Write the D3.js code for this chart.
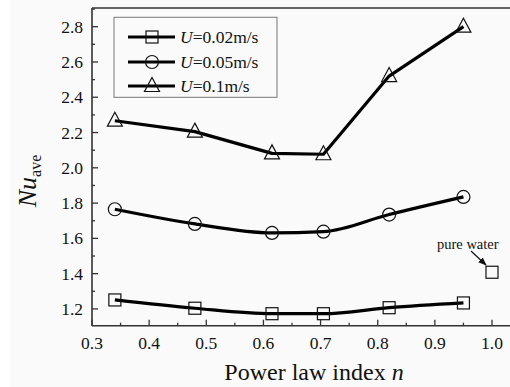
<!DOCTYPE html>
<html><head><meta charset="utf-8">
<script src="https://cdn.jsdelivr.net/npm/d3@7"></script>
<style>
html,body{margin:0;padding:0;background:#fafafa;}
svg{display:block;}
text{font-family:"Liberation Serif","Times New Roman",serif;fill:#111;}
</style></head>
<body>
<script>
const nValues = [0.34, 0.48, 0.615, 0.705, 0.82, 0.95];
const nu002 = [1.251, 1.204, 1.173, 1.173, 1.207, 1.234];
const nu005 = [1.765, 1.682, 1.631, 1.638, 1.735, 1.835];
const nu01  = [2.267, 2.205, 2.082, 2.077, 2.520, 2.800];
const seriesNames = ["0.02m/s", "0.05m/s", "0.1m/s"];
const seriesSymbols = ["square", "circle", "triangle"];
const pureWaterN = [1.0];
const pureWaterNu = [1.408];
const xTicks = [0.3, 0.4, 0.5, 0.6, 0.7, 0.8, 0.9, 1.0];
const yTicks = [1.2, 1.4, 1.6, 1.8, 2.0, 2.2, 2.4, 2.6, 2.8];

const W = 510, H = 387;
const svg = d3.select("body").append("svg").attr("width", W).attr("height", H);
svg.append("rect").attr("x",0).attr("y",0).attr("width",10).attr("height",H).attr("fill","#fff");

const L = 92, R = 510, T = 8, B = 325.7;
const x = d3.scaleLinear().domain([0.3, 1.0315]).range([L, R]);
const y = d3.scaleLinear().domain([1.105, 2.906]).range([B, T]);

const axisColor = "#333";
svg.append("line").attr("x1",L).attr("x2",R).attr("y1",T).attr("y2",T).attr("stroke",axisColor).attr("stroke-width",1.6);
svg.append("line").attr("x1",L).attr("x2",L).attr("y1",T).attr("y2",B).attr("stroke",axisColor).attr("stroke-width",1.6);
svg.append("line").attr("x1",L).attr("x2",R).attr("y1",B).attr("y2",B).attr("stroke",axisColor).attr("stroke-width",1.6);

const xMinor = d3.range(0.35, 1.03, 0.1);
const gx = svg.append("g");
xTicks.forEach(v=>{
  gx.append("line").attr("x1",x(v)).attr("x2",x(v)).attr("y1",B).attr("y2",B-6).attr("stroke",axisColor).attr("stroke-width",1.3);
  gx.append("text").attr("x",x(v)).attr("y",349).attr("text-anchor","middle").attr("font-size",17.5).text(d3.format(".1f")(v));
});
xMinor.forEach(v=>{
  gx.append("line").attr("x1",x(v)).attr("x2",x(v)).attr("y1",B).attr("y2",B-3).attr("stroke",axisColor).attr("stroke-width",1.3);
});
const yMinor = d3.range(1.3, 2.95, 0.2);
const gy = svg.append("g");
yTicks.forEach(v=>{
  gy.append("line").attr("x1",L).attr("x2",L+6).attr("y1",y(v)).attr("y2",y(v)).attr("stroke",axisColor).attr("stroke-width",1.3);
  gy.append("text").attr("x",83).attr("y",y(v)+6).attr("text-anchor","end").attr("font-size",17.5).text(d3.format(".1f")(v));
});
yMinor.forEach(v=>{
  gy.append("line").attr("x1",L).attr("x2",L+3).attr("y1",y(v)).attr("y2",y(v)).attr("stroke",axisColor).attr("stroke-width",1.3);
});

const xt = svg.append("text").attr("x",314).attr("y",379.5).attr("text-anchor","middle").attr("font-size",24);
xt.append("tspan").text("Power law index ");
xt.append("tspan").attr("font-style","italic").text("n");

const yt = svg.append("text").attr("transform","translate(35.5,181) rotate(-90)").attr("text-anchor","middle").attr("font-size",26);
yt.append("tspan").attr("font-style","italic").text("Nu");
yt.append("tspan").attr("font-size",16).attr("dy",5).text("ave");

const data = [nu002, nu005, nu01];
const smooth = d3.line().x(d=>x(d[0])).y(d=>y(d[1])).curve(d3.curveMonotoneX);
const straight = d3.line().x(d=>x(d[0])).y(d=>y(d[1]));
function marker(g, sym, cx, cy){
  if(sym==="square"){
    g.append("rect").attr("x",cx-6).attr("y",cy-6).attr("width",12).attr("height",12).attr("fill","none").attr("stroke","#111").attr("stroke-width",1.2);
  } else if(sym==="circle"){
    g.append("circle").attr("cx",cx).attr("cy",cy).attr("r",6.5).attr("fill","none").attr("stroke","#111").attr("stroke-width",1.2);
  } else {
    const s=7.5;
    g.append("path").attr("d",`M${cx},${cy-s-1} L${cx+s},${cy+s-2} L${cx-s},${cy+s-2} Z`).attr("fill","none").attr("stroke","#111").attr("stroke-width",1.2);
  }
}
data.forEach((vals,i)=>{
  const pts = nValues.map((n,j)=>[n, vals[j]]);
  const gen = i===2 ? straight : smooth;
  svg.append("path").attr("d", gen(pts)).attr("fill","none").attr("stroke","#000").attr("stroke-width",3.2).attr("stroke-linejoin","round");
  const g = svg.append("g");
  pts.forEach(p=>marker(g, seriesSymbols[i], x(p[0]), y(p[1])));
});
const gw = svg.append("g");
pureWaterN.forEach((n,j)=>marker(gw,"square",x(n),y(pureWaterNu[j])));
svg.append("text").attr("x",437).attr("y",249).attr("font-size",14.5).text("pure water");
svg.append("defs").append("marker").attr("id","arr").attr("viewBox","0 0 10 10").attr("refX",9).attr("refY",5)
  .attr("markerWidth",7).attr("markerHeight",7).attr("orient","auto")
  .append("path").attr("d","M0,1 L10,5 L0,9 Z").attr("fill","#111");
svg.append("line").attr("x1",471).attr("y1",251).attr("x2",486).attr("y2",265).attr("stroke","#111").attr("stroke-width",1.2).attr("marker-end","url(#arr)");

const lg = svg.append("g");
lg.append("rect").attr("x",114).attr("y",17.3).attr("width",163).attr("height",80).attr("fill","none").attr("stroke","#777").attr("stroke-width",1);
const rowsY = [37, 62, 86];
seriesNames.forEach((nm,i)=>{
  lg.append("line").attr("x1",128).attr("x2",175).attr("y1",rowsY[i]).attr("y2",rowsY[i]).attr("stroke","#000").attr("stroke-width",3.2);
  marker(lg, seriesSymbols[i], 152, rowsY[i]);
  const t = lg.append("text").attr("x",180).attr("y",rowsY[i]+6).attr("font-size",17.5);
  t.append("tspan").attr("font-style","italic").text("U");
  t.append("tspan").text("=" + nm);
});
</script>
</body></html>
